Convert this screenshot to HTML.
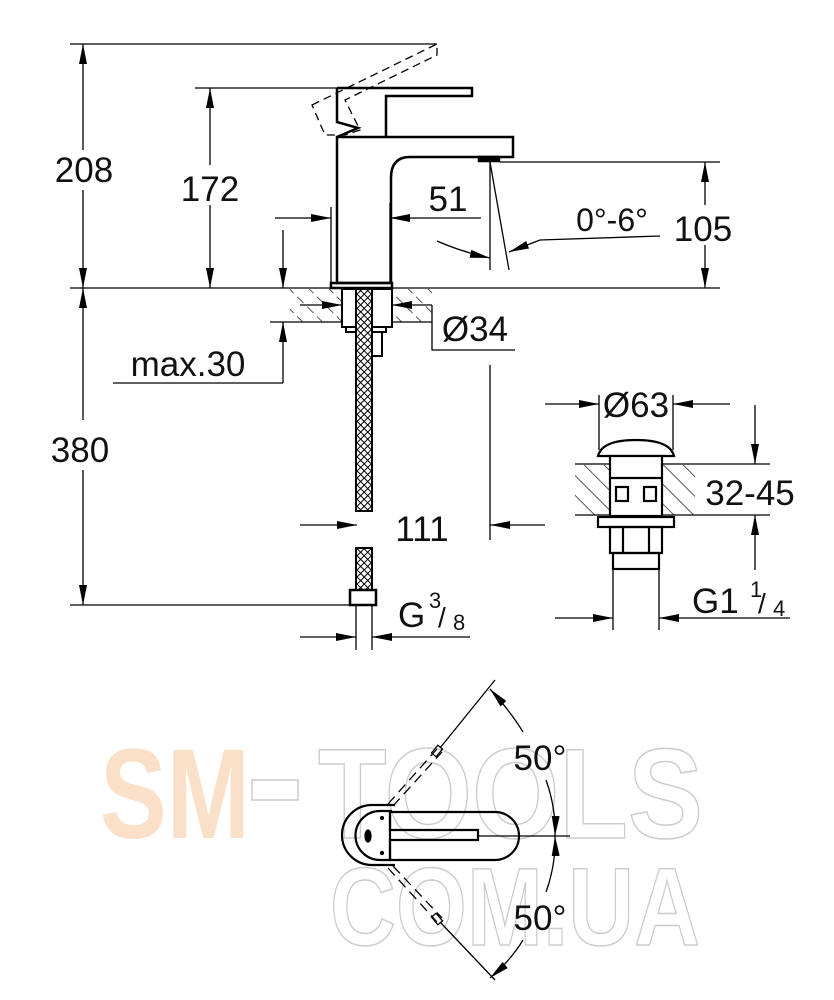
<!DOCTYPE html>
<html><head><meta charset="utf-8"><style>
html,body{margin:0;padding:0;background:#fff}
svg{display:block}
text{font-family:"Liberation Sans",sans-serif;fill:#111}
</style></head><body>
<svg width="834" height="1000" viewBox="0 0 834 1000" xmlns="http://www.w3.org/2000/svg">
<defs>
<marker id="a" viewBox="0 0 20 8" refX="20" refY="4" markerWidth="20" markerHeight="8" markerUnits="userSpaceOnUse" orient="auto"><path d="M0,0L20,4L0,8z" fill="#000"/></marker>
<pattern id="h" width="14" height="14" patternUnits="userSpaceOnUse" patternTransform="rotate(-45)"><line x1="0" y1="0" x2="0" y2="14" stroke="#000" stroke-width="1.3" stroke-dasharray="9,5"/></pattern>
<pattern id="h2" width="14" height="14" patternUnits="userSpaceOnUse" patternTransform="rotate(-45)"><line x1="0" y1="0" x2="0" y2="14" stroke="#000" stroke-width="1.3"/></pattern>
<pattern id="br" width="5" height="5" patternUnits="userSpaceOnUse" patternTransform="rotate(45)"><rect width="5" height="5" fill="#fff"/><line x1="0" y1="0" x2="0" y2="5" stroke="#000" stroke-width="2"/><line x1="0" y1="0" x2="5" y2="0" stroke="#000" stroke-width="2"/></pattern>
</defs>

<!-- watermark -->
<text x="100" y="838" font-size="128" font-weight="bold" style="fill:#fae0c8" textLength="150" lengthAdjust="spacingAndGlyphs">SM</text>
<rect x="252" y="780" width="46" height="20" fill="none" stroke="#ccc" stroke-width="1.5"/>
<text x="318" y="838" font-size="128" font-weight="bold" stroke="#ccc" stroke-width="1.5" style="fill:none" textLength="385" lengthAdjust="spacingAndGlyphs">TOOLS</text>
<text x="330" y="945" font-size="110" font-weight="bold" stroke="#ccc" stroke-width="1.5" style="fill:none" textLength="370" lengthAdjust="spacingAndGlyphs">COM.UA</text>

<g stroke="#000" stroke-width="1.3" fill="none">
<line x1="70" y1="44" x2="437" y2="44"/>
<line x1="195" y1="88" x2="337" y2="88"/>
<line x1="70" y1="288" x2="720" y2="288"/>
<line x1="83" y1="150" x2="83" y2="44" marker-end="url(#a)"/>
<line x1="83" y1="190" x2="83" y2="288" marker-end="url(#a)"/>
<line x1="210" y1="165" x2="210" y2="88" marker-end="url(#a)"/>
<line x1="210" y1="205" x2="210" y2="288" marker-end="url(#a)"/>

<g stroke-width="2.5">
<path d="M337,88 L472,88 L472,96 L386,96 L386,137"/>
<path d="M337,88 L337,122 L358,128 L337,137"/>
<path d="M337,137 L513,137 L513,157 L410,157 Q391,157 391,178 L391,283 L337,283 Z"/>
<rect x="331" y="283" width="61" height="5"/>
<rect x="479" y="157" width="20" height="4" fill="#000"/>
</g>
<path d="M312,105 L437,44 L437,55 L345,100 L360,130 L345,135 L325,135 Z" stroke-dasharray="8,5"/>

<line x1="331" y1="207" x2="331" y2="288"/>
<line x1="390" y1="203" x2="390" y2="283"/>
<line x1="275" y1="218" x2="331" y2="218" marker-end="url(#a)"/>
<line x1="481" y1="218" x2="390" y2="218" marker-end="url(#a)"/>
<line x1="490" y1="162" x2="490" y2="270"/>
<line x1="490" y1="162" x2="509" y2="270"/>
<line x1="500" y1="162" x2="720" y2="162"/>
<path d="M437,241 Q462,252 490,258" marker-end="url(#a)"/>
<path d="M540,240 L509,252" marker-end="url(#a)"/>
<line x1="540" y1="240" x2="660" y2="236"/>
<line x1="705" y1="205" x2="705" y2="162" marker-end="url(#a)"/>
<line x1="705" y1="245" x2="705" y2="288" marker-end="url(#a)"/>

<rect x="290" y="289" width="142" height="33" fill="url(#h)" stroke="none"/>
<line x1="270" y1="322" x2="432" y2="322"/>
<rect x="342" y="289" width="50" height="38" fill="#fff" stroke-width="2"/>
<rect x="346" y="327" width="40" height="5" stroke-width="2"/>
<rect x="372" y="332" width="10" height="24" stroke-width="2"/>
<line x1="300" y1="305" x2="342" y2="305" marker-end="url(#a)"/>
<line x1="432" y1="305" x2="392" y2="305" marker-end="url(#a)"/>
<path d="M432,305 L432,350 L515,350"/>
<line x1="283" y1="230" x2="283" y2="288" marker-end="url(#a)"/>
<line x1="283" y1="383" x2="283" y2="322" marker-end="url(#a)"/>
<line x1="113" y1="383" x2="283" y2="383"/>
<rect x="356" y="289" width="16" height="222" fill="url(#br)" stroke-width="2"/>
<rect x="356" y="548" width="16" height="42" fill="url(#br)" stroke-width="2"/>
<rect x="350" y="590" width="26" height="15" stroke-width="2.5"/>
<line x1="356" y1="605" x2="356" y2="650"/>
<line x1="372" y1="605" x2="372" y2="650"/>
<line x1="83" y1="420" x2="83" y2="288" marker-end="url(#a)"/>
<line x1="83" y1="470" x2="83" y2="605" marker-end="url(#a)"/>
<line x1="70" y1="605" x2="350" y2="605"/>
<line x1="490" y1="365" x2="490" y2="540"/>
<line x1="300" y1="525" x2="357" y2="525" marker-end="url(#a)"/>
<line x1="545" y1="525" x2="490" y2="525" marker-end="url(#a)"/>
<line x1="300" y1="637" x2="356" y2="637" marker-end="url(#a)"/>
<line x1="470" y1="637" x2="372" y2="637" marker-end="url(#a)"/>

<line x1="599" y1="395" x2="599" y2="450"/>
<line x1="673" y1="395" x2="673" y2="450"/>
<line x1="545" y1="404" x2="599" y2="404" marker-end="url(#a)"/>
<line x1="730" y1="404" x2="673" y2="404" marker-end="url(#a)"/>
<rect x="575" y="465" width="120" height="50" fill="url(#h2)" stroke="none"/>
<line x1="575" y1="464" x2="770" y2="464"/>
<line x1="575" y1="515" x2="770" y2="515"/>
<g stroke-width="2.2">
<path d="M598,456 Q602,440 636,440 Q670,440 674,456 Z" fill="#fff"/>
<rect x="610" y="456" width="52" height="60" fill="#fff"/>
<rect x="616" y="487" width="12" height="14"/><rect x="644" y="487" width="12" height="14"/>
<line x1="610" y1="478" x2="662" y2="478"/>
<rect x="598" y="517" width="76" height="10" fill="#fff"/>
<rect x="610" y="527" width="52" height="26"/>
<line x1="623" y1="527" x2="623" y2="553"/><line x1="649" y1="527" x2="649" y2="553"/>
<rect x="613" y="553" width="46" height="16"/>
</g>
<line x1="613" y1="569" x2="613" y2="630"/>
<line x1="659" y1="569" x2="659" y2="630"/>
<line x1="755" y1="405" x2="755" y2="464" marker-end="url(#a)"/>
<line x1="755" y1="570" x2="755" y2="515" marker-end="url(#a)"/>
<line x1="555" y1="618" x2="613" y2="618" marker-end="url(#a)"/>
<line x1="790" y1="618" x2="659" y2="618" marker-end="url(#a)"/>

<g stroke-width="2.2">
<path d="M395,805 L372,805 A30,30 0 0 0 372,865 L395,865"/>
<path d="M392,811 L380,811 A24,24 0 0 0 380,860 L392,860"/>
<path d="M390,812 L495,812 A24,24 0 0 1 495,860 L390,860 Z"/>
<path d="M390,812 L390,830 L478,830 L478,840 L390,840 L390,860"/>
</g>
<ellipse cx="368" cy="836" rx="3" ry="6" fill="#000"/>
<circle cx="382" cy="818" r="1.5" fill="#000"/><circle cx="382" cy="853" r="1.5" fill="#000"/>
<line x1="478" y1="836" x2="570" y2="836"/>
<path d="M388,804 L437,749 M393,806 L442,752" stroke-dasharray="10,6"/>
<rect x="434" y="746" width="6" height="10" transform="rotate(40 437 751)"/>
<line x1="440" y1="748" x2="495" y2="680"/>
<path d="M388,868 L437,922 M393,866 L442,918" stroke-dasharray="10,6"/>
<rect x="434" y="914" width="6" height="10" transform="rotate(-40 437 919)"/>
<line x1="440" y1="922" x2="495" y2="980"/>
<path d="M523,732 Q511,712 490,689" marker-end="url(#a)"/>
<path d="M546,780 Q556,808 555,836" marker-end="url(#a)"/>
<path d="M546,892 Q556,864 555,836" marker-end="url(#a)"/>
<path d="M523,940 Q511,960 490,978" marker-end="url(#a)"/>
</g>

<g font-size="35">
<text x="84" y="182" text-anchor="middle">208</text>
<text x="210" y="201" text-anchor="middle">172</text>
<text x="448" y="211" text-anchor="middle">51</text>
<text x="612" y="231" text-anchor="middle" font-size="32">0°-6°</text>
<text x="703" y="241" text-anchor="middle">105</text>
<text x="475" y="341" text-anchor="middle">Ø34</text>
<text x="188" y="376" text-anchor="middle">max.30</text>
<text x="80" y="462" text-anchor="middle">380</text>
<text x="422" y="541" text-anchor="middle">111</text>
<text x="398" y="627">G</text>
<text x="429" y="608" font-size="22">3</text>
<text x="438" y="627" font-size="28">/</text>
<text x="453" y="630" font-size="22">8</text>
<text x="636" y="417" text-anchor="middle">Ø63</text>
<text x="750" y="505" text-anchor="middle">32-45</text>
<text x="692" y="613">G1</text>
<text x="750" y="597" font-size="22">1</text>
<text x="758" y="613" font-size="28">/</text>
<text x="773" y="616" font-size="22">4</text>
<text x="540" y="770" text-anchor="middle">50°</text>
<text x="540" y="930" text-anchor="middle">50°</text>
</g>
</svg>
</body></html>
